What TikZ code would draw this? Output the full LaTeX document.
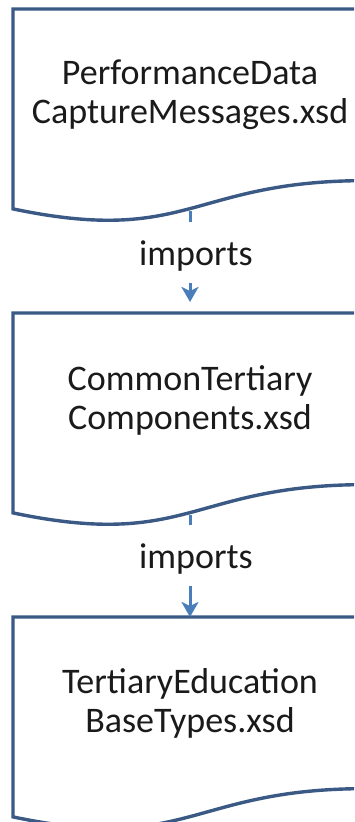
\documentclass[tikz,border=0pt]{standalone}
\usepackage{fontspec}
\setmainfont{Carlito}
\usetikzlibrary{arrows.meta}
\definecolor{docline}{HTML}{3A5A85}
\definecolor{arrowblue}{HTML}{4A7EBB}
\definecolor{txt}{HTML}{1A1A1A}
\tikzset{
  docshape/.style={draw=docline, line width=3.4pt, line join=miter},
  doctext/.style={font=\fontsize{36}{39}\selectfont, align=center, text=txt, inner sep=0pt},
  implabel/.style={font=\fontsize{36}{39}\selectfont, text=txt, inner xsep=0pt, inner ysep=10pt, text height=33pt, text depth=8pt},
  conn/.style={draw=arrowblue, line width=3pt},
  connarrow/.style={conn, -{Stealth[length=15pt,width=17pt,inset=4pt]}},
}
\newcommand\mydoc[1]{\draw[docshape] (367,#1) -- (13,#1) -- (13,{#1+199.9}) .. controls (190,{#1+236.9}) and (190,{#1+171.6}) .. (367,{#1+171.6}) -- cycle;}
\begin{document}
\begin{tikzpicture}[x=1pt,y=-1pt]
\useasboundingbox (0,0) rectangle (354,822);
\fill[white] (0,0) rectangle (354,822);
\clip (0,0) rectangle (354,822);
\mydoc{9}
\mydoc{313}
\mydoc{617}
\node[doctext] (d1) at (190,95) {PerformanceData\\CaptureMessages.xsd};
\node[doctext] (d2) at (190,400) {CommonTertiary\\Components.xsd};
\node[doctext] (d3) at (190,703) {TertiaryEducation\\BaseTypes.xsd};
\coordinate (b1bot) at (190,211);
\coordinate (b2top) at (190,313);
\coordinate (tip1) at (190,302);
\coordinate (b2bot) at (190,515);
\coordinate (b3top) at (190,617);
\node[implabel, anchor=base] (lab1) at (196,265) {imports};
\node[implabel, anchor=base] (lab2) at (196,568) {imports};
\draw[conn] (b1bot) -- (b1bot |- lab1.north);
\draw[connarrow] (b1bot |- lab1.south) -- (tip1);
\draw[conn] (b2bot) -- (b2bot |- lab2.north);
\draw[connarrow] (b2bot |- lab2.south) -- (b3top);
\end{tikzpicture}
\end{document}
